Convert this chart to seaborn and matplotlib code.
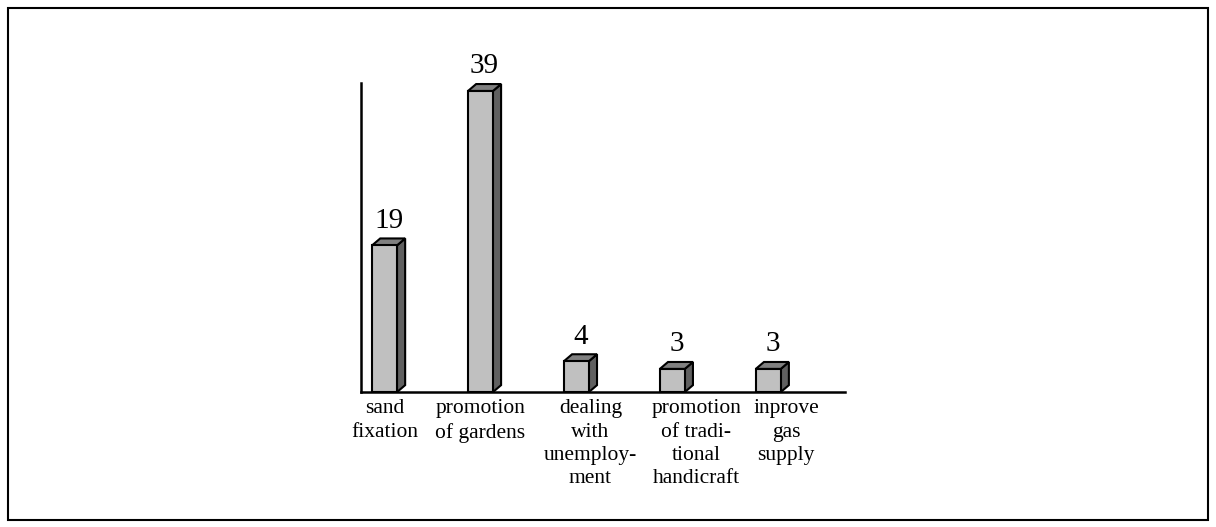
import numpy as np
import pandas as pd
import seaborn as sns
import matplotlib.pyplot as plt
import matplotlib.transforms as mtrans
from matplotlib.patches import Polygon, Rectangle

categories = ['sand\nfixation', 'promotion\nof gardens', 'dealing\nwith\nunemploy-\nment',
              'promotion\nof tradi-\ntional\nhandicraft', 'inprove\ngas\nsupply']
values = [19, 39, 4, 3, 3]
label_shift_px = [0, 0, 14, 24, 18]

sns.set_style('white')
plt.rcParams['font.family'] = ['Liberation Serif', 'DejaVu Serif']
plt.rcParams['text.color'] = 'black'
plt.rcParams['xtick.color'] = 'black'

df = pd.DataFrame({'cat': categories, 'val': values})

fig = plt.figure(figsize=(12.16, 5.27), dpi=100)
ax = fig.add_axes([0.2969, 0.256, 0.398, 0.586])

sns.barplot(data=df, x='cat', y='val', color='#c0c0c0', saturation=1,
            edgecolor='black', linewidth=1.5, width=0.26, ax=ax, zorder=3)

ax.set_xlim(-0.245, 4.8)
ax.set_ylim(0, 40)

# fake 3d: top and side faces from each bar
dx, dy = 0.085, 0.9
for p, v in zip(ax.patches, values):
    x0 = p.get_x()
    w = p.get_width()
    h = p.get_height()
    top = Polygon([[x0, h], [x0 + dx, h + dy], [x0 + w + dx, h + dy], [x0 + w, h]],
                  closed=True, facecolor='#808080', edgecolor='black', linewidth=1.5, zorder=2)
    side = Polygon([[x0 + w, 0], [x0 + w + dx, dy], [x0 + w + dx, h + dy], [x0 + w, h]],
                   closed=True, facecolor='#606060', edgecolor='black', linewidth=1.5, zorder=2)
    ax.add_patch(side)
    ax.add_patch(top)
    ax.text(x0 + w / 2 + dx / 2, h + dy + 0.6, str(v), ha='center', va='bottom',
            fontsize=21, color='black', zorder=4)

for s in ['top', 'right']:
    ax.spines[s].set_visible(False)
for s in ['left', 'bottom']:
    ax.spines[s].set_linewidth(1.8)
    ax.spines[s].set_color('black')
    ax.spines[s].set_zorder(5)

ax.set_yticks([])
ax.set_xlabel('')
ax.set_ylabel('')
ax.tick_params(axis='x', length=0, pad=5, labelcolor='black')
ax.set_xticks(range(len(categories)))
ax.set_xticklabels(categories, fontsize=15.5, linespacing=1.32, va='top', ha='center')
for lab, sh in zip(ax.get_xticklabels(), label_shift_px):
    lab.set_transform(lab.get_transform() + mtrans.ScaledTranslation(sh / 100, 0, fig.dpi_scale_trans))

fig.patches.append(Rectangle((8 / 1216, 7 / 527), 1200 / 1216, 512 / 527, transform=fig.transFigure,
                             fill=False, edgecolor='black', linewidth=1.5))

fig.savefig('out.png', dpi=100)
